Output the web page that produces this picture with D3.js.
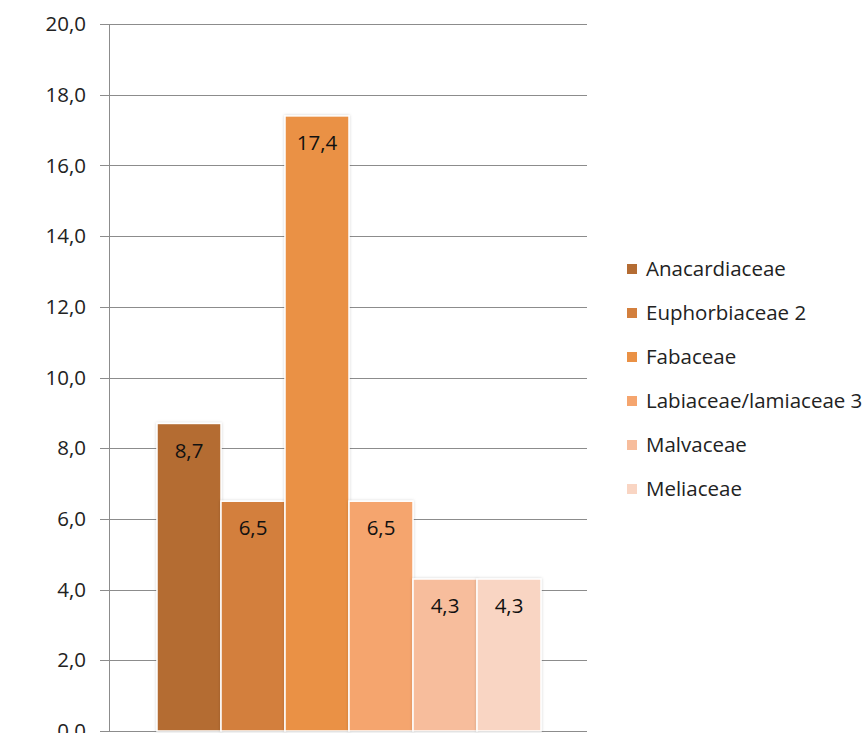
<!DOCTYPE html>
<html><head><meta charset="utf-8">
<script src="https://cdn.jsdelivr.net/npm/d3@7"></script>
<style>body{margin:0;background:#fff;}svg{display:block;font-family:"Open Sans","Noto Sans",sans-serif;}</style>
</head><body><svg id="c" width="863" height="733"></svg>
<script>
const categories = ["Anacardiaceae","Euphorbiaceae 2","Fabaceae","Labiaceae/lamiaceae 3","Malvaceae","Meliaceae"];
const values = [8.7, 6.5, 17.4, 6.5, 4.3, 4.3];
const colors = ["#B46C33","#D37F3D","#EA9145","#F5A56E","#F7BD9C","#F9D5C3"];
const yTicks = [0,2,4,6,8,10,12,14,16,18,20];

(function(){
const svg = d3.select("#c");
const plotL = 109, plotR = 587, plotT = 24, plotB = 731;
const y = d3.scaleLinear().domain([0,20]).range([plotB, plotT]);
const x = d3.scaleBand().domain(categories).range([157, 541]).padding(0);
const fmt = v => d3.format(".1f")(v).replace(".", ",");
const fs = 20.5;

const defs = svg.append("defs");
const f = defs.append("filter").attr("id","sh").attr("x","-20%").attr("y","-20%").attr("width","140%").attr("height","140%");
f.append("feDropShadow").attr("dx",0).attr("dy",0).attr("stdDeviation",1.5).attr("flood-color","#000").attr("flood-opacity",0.18);

svg.append("g").selectAll("line").data(yTicks).join("line")
  .attr("x1", 100).attr("x2", plotR)
  .attr("y1", d => Math.round(y(d))+0.5).attr("y2", d => Math.round(y(d))+0.5)
  .attr("stroke", "#8c8c8c").attr("stroke-width", 1);

svg.append("line").attr("x1", plotL+0.5).attr("x2", plotL+0.5).attr("y1", plotT).attr("y2", plotB)
  .attr("stroke", "#8c8c8c");

svg.append("g").selectAll("text").data(yTicks).join("text")
  .attr("x", 86).attr("y", d => y(d)).attr("dy","0.35em")
  .attr("text-anchor","end").attr("font-size", fs).attr("fill","#222")
  .text(d => fmt(d));

svg.append("g").selectAll("rect").data(values).join("rect")
  .attr("x", (d,i) => x(categories[i]))
  .attr("y", d => y(d))
  .attr("width", x.bandwidth())
  .attr("height", d => plotB - y(d))
  .attr("fill", (d,i) => colors[i])
  .attr("stroke", "#fff").attr("stroke-width", 1.5)
  .attr("filter","url(#sh)");

svg.append("g").selectAll("text").data(values).join("text")
  .attr("x", (d,i) => x(categories[i]) + x.bandwidth()/2)
  .attr("y", d => y(d) + 27).attr("dy","0.35em")
  .attr("text-anchor","middle").attr("font-size", fs).attr("fill","#111")
  .text(d => fmt(d));

const lg = svg.append("g").selectAll("g").data(categories).join("g")
  .attr("transform", (d,i) => `translate(627, ${269 + i*44})`);
lg.append("rect").attr("x",0).attr("y",-5).attr("width",10).attr("height",10)
  .attr("fill", (d,i) => colors[i]);
lg.append("text").attr("x", 19).attr("y", 0).attr("dy","0.35em")
  .attr("font-size", fs).attr("fill","#222").text(d => d);
})();
</script></body></html>
